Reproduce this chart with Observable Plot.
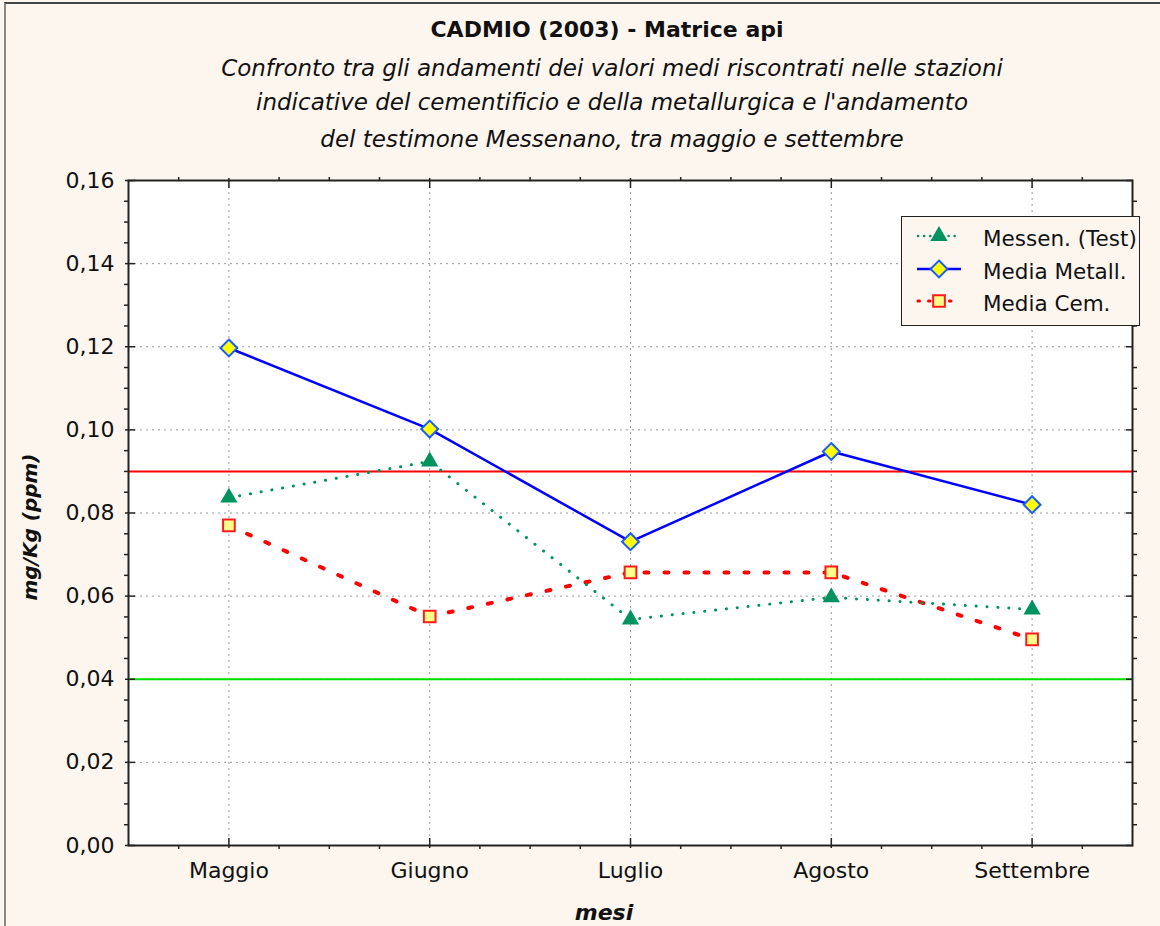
<!DOCTYPE html>
<html><head><meta charset="utf-8">
<script src="https://cdn.jsdelivr.net/npm/d3@7"></script>
<script src="https://cdn.jsdelivr.net/npm/@observablehq/plot@0.6"></script>
<style>
html,body{margin:0;padding:0;background:#fdf6ef;}
#wrap{position:relative;width:1160px;height:926px;background:#fdf6ef;overflow:hidden;font-family:"DejaVu Sans",sans-serif;color:#111;}
#border{position:absolute;left:4px;top:2px;width:1170px;height:940px;border-left:2px solid #888;border-top:2px solid #444;}
.t{position:absolute;left:107px;width:1000px;text-align:center;white-space:nowrap;}
#title{top:17px;font-weight:bold;font-size:22px;line-height:26px;}
.sub{left:112px;font-style:italic;font-size:23px;line-height:28px;}
#ylab{position:absolute;left:30px;top:527px;transform:translate(-50%,-50%) rotate(-90deg);font-weight:bold;font-style:italic;font-size:20px;white-space:nowrap;}
#xlab{position:absolute;left:604px;top:912px;transform:translate(-50%,-50%);font-weight:bold;font-style:italic;font-size:22px;}
#chart{position:absolute;left:0;top:0;}
#legend{position:absolute;left:901px;top:216px;width:237px;height:108px;border:1px solid #222;background:#fdf6ef;}
.row{position:absolute;left:0;height:30px;width:237px;}
.row svg{position:absolute;left:12px;top:0;}
.row span{position:absolute;left:81px;top:0px;font-size:21.5px;white-space:nowrap;}
</style></head>
<body>
<div id="wrap">
  <div id="chart"></div>
  <div id="border"></div>
  <div class="t" id="title">CADMIO (2003) - Matrice api</div>
  <div class="t sub" style="top:54px">Confronto tra gli andamenti dei valori medi riscontrati nelle stazioni</div>
  <div class="t sub" style="top:88px">indicative del cementificio e della metallurgica e l'andamento</div>
  <div class="t sub" style="top:125px">del testimone Messenano, tra maggio e settembre</div>
  <div id="ylab">mg/Kg (ppm)</div>
  <div id="xlab">mesi</div>
  <div id="legend"></div>
</div>
<script>
// ---- data ----
const months = ["Maggio", "Giugno", "Luglio", "Agosto", "Settembre"];
const messen = [0.0837, 0.0924, 0.0544, 0.0597, 0.0568];
const metall = [0.1197, 0.1002, 0.0731, 0.0948, 0.0820];
const cem = [0.0770, 0.0551, 0.0657, 0.0657, 0.0496];
const limitHigh = 0.09;
const limitLow = 0.04;
const yMajor = [0, 0.02, 0.04, 0.06, 0.08, 0.10, 0.12, 0.14, 0.16];
const seriesNames = ["Messen. (Test)", "Media Metall.", "Media Cem."];

// ---- derived ----
const idx = months.map((_, i) => i);
const rows = arr => arr.map((v, i) => ({i, v}));
const rMessen = rows(messen), rMetall = rows(metall), rCem = rows(cem);
const yMinor = d3.range(0, 0.16 + 1e-9, 0.005).filter(v => Math.abs(v / 0.02 - Math.round(v / 0.02)) > 1e-6);
const xMinor = d3.range(-0.25, 4.26, 0.25).filter(v => Math.abs(v - Math.round(v)) > 1e-6);
const fmt = d => d3.format(".2f")(d).replace(".", ",");
const blank = () => "";

const cGreen = "#00935f", cBlue = "#0000ff", cRed = "#ff0000";
const tick = {stroke: "#222", strokeWidth: 1.5, tickFormat: blank, label: null};

const plot = Plot.plot({
  width: 1160, height: 926,
  marginLeft: 128, marginRight: 28, marginTop: 180, marginBottom: 81,
  style: {background: "transparent", fontFamily: "DejaVu Sans, sans-serif", color: "#111", overflow: "visible"},
  x: {domain: [-0.5, 4.5], label: null},
  y: {domain: [0, 0.16], label: null},
  marks: [
    Plot.frame({fill: "white", stroke: "none"}),
    Plot.gridY(yMajor.slice(1, -1), {stroke: "#9a9a9a", strokeOpacity: 1, strokeDasharray: "2,4", strokeWidth: 1}),
    Plot.gridX(idx, {stroke: "#9a9a9a", strokeOpacity: 1, strokeDasharray: "2,4", strokeWidth: 1}),
    Plot.ruleY([limitHigh], {stroke: cRed, strokeWidth: 2}),
    Plot.ruleY([limitLow], {stroke: "#00e000", strokeWidth: 2}),
    Plot.line(rCem, {x: "i", y: "v", stroke: cRed, strokeWidth: 4, strokeDasharray: "4,16", strokeLinecap: "round"}),
    Plot.line(rMessen, {x: "i", y: "v", stroke: cGreen, strokeWidth: 3, strokeDasharray: "0.1,10.8", strokeLinecap: "round"}),
    Plot.line(rMetall, {x: "i", y: "v", stroke: cBlue, strokeWidth: 2.5}),
    Plot.dot(rMessen, {x: "i", y: "v", symbol: "triangle", r: 6.4, fill: cGreen, stroke: "none"}),
    Plot.dot(rMetall, {x: "i", y: "v", symbol: "diamond2", r: 7.6, fill: "#ffff00", stroke: "#1a5cff", strokeWidth: 2}),
    Plot.dot(rCem, {x: "i", y: "v", symbol: "square", r: 6.6, fill: "#ffff88", stroke: "#ff1a1a", strokeWidth: 2}),
    Plot.frame({stroke: "#222", strokeWidth: 2}),
    // y axis left
    Plot.axisY(yMajor, {anchor: "left", tickSize: 0, tickPadding: 14, tickFormat: fmt, fontSize: 22, label: null}),
    Plot.axisY(yMajor, {anchor: "left", tickSize: 3, ...tick}),
    Plot.axisY(yMajor, {anchor: "left", tickSize: -7, ...tick}),
    Plot.axisY(yMinor, {anchor: "left", tickSize: 4, ...tick}),
    // y axis right
    Plot.axisY(yMajor, {anchor: "right", tickSize: -7, ...tick}),
    Plot.axisY(yMinor, {anchor: "right", tickSize: 4, ...tick}),
    // x axis bottom
    Plot.axisX(idx, {anchor: "bottom", tickSize: 0, tickPadding: 17, tickFormat: i => months[i], fontSize: 22, label: null}),
    Plot.axisX(idx, {anchor: "bottom", tickSize: -7, ...tick}),
    Plot.axisX(idx, {anchor: "bottom", tickSize: 3, ...tick}),
    Plot.axisX(xMinor, {anchor: "bottom", tickSize: 4, ...tick}),
    // x axis top
    Plot.axisX(idx, {anchor: "top", tickSize: -7, ...tick}),
    Plot.axisX(idx, {anchor: "top", tickSize: 3, ...tick}),
    Plot.axisX(xMinor, {anchor: "top", tickSize: 4, ...tick})
  ]
});
document.getElementById("chart").appendChild(plot);

// ---- legend ----
const legend = document.getElementById("legend");
const swatches = [
  `<line x1="4" y1="10" x2="44" y2="10" stroke="${cGreen}" stroke-width="2.5" stroke-dasharray="0.1,6" stroke-linecap="round"/><path d="${d3.symbol(d3.symbolTriangle, Math.PI*6.4*6.4)()}" transform="translate(25,10)" fill="${cGreen}"/>`,
  `<line x1="3" y1="10" x2="47" y2="10" stroke="${cBlue}" stroke-width="2.5"/><path d="${d3.symbol(d3.symbolDiamond2, Math.PI*7.6*7.6)()}" transform="translate(25,10)" fill="#ffff00" stroke="#1a5cff" stroke-width="2"/>`,
  `<line x1="4" y1="10" x2="44" y2="10" stroke="${cRed}" stroke-width="3" stroke-dasharray="1.5,9" stroke-linecap="round"/><path d="${d3.symbol(d3.symbolSquare, Math.PI*6.6*6.6)()}" transform="translate(25,10)" fill="#ffff88" stroke="#ff1a1a" stroke-width="2"/>`
];
seriesNames.forEach((name, k) => {
  const row = document.createElement("div");
  row.className = "row";
  row.style.top = (9 + k * 32.5) + "px";
  row.innerHTML = `<svg width="52" height="22">${swatches[k]}</svg><span>${name}</span>`;
  legend.appendChild(row);
});
</script>
</body></html>
